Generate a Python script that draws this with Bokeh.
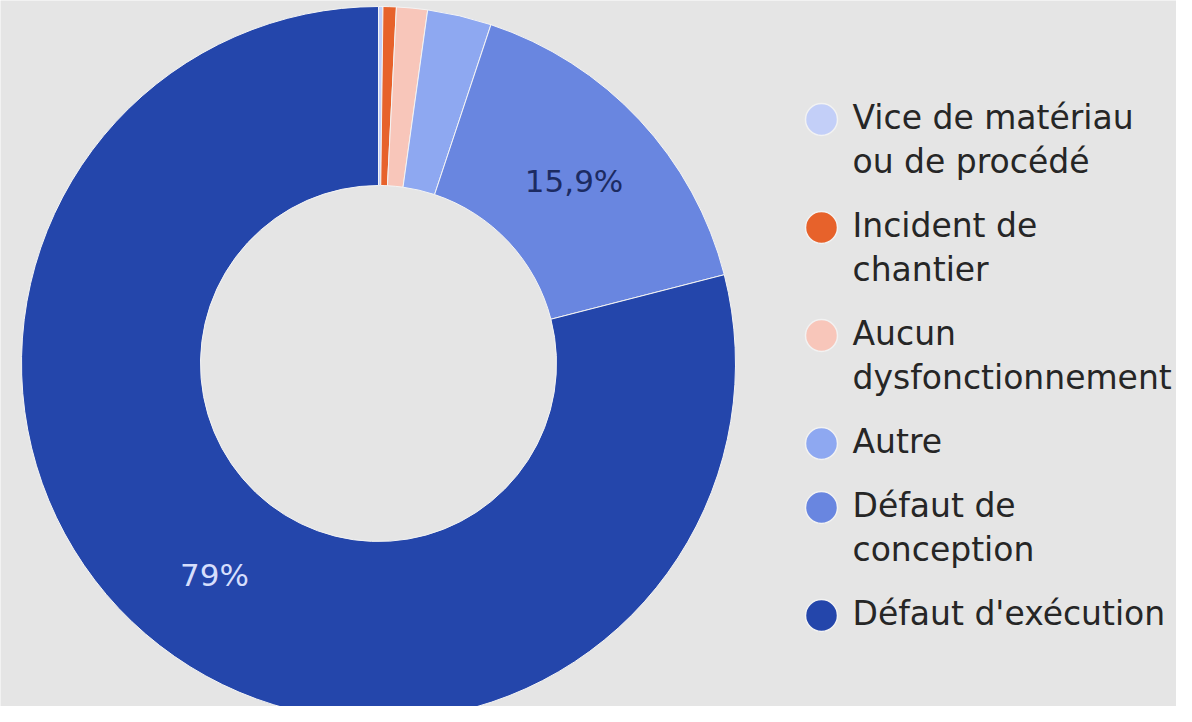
import math
from bokeh.plotting import figure
from bokeh.models import Range1d, ColumnDataSource
from bokeh.core.properties import value
from bokeh.embed import file_html
from bokeh.resources import INLINE

# ---- data ----
categories = ["Vice de matériau\nou de procédé",
              "Incident de\nchantier",
              "Aucun\ndysfonctionnement",
              "Autre",
              "Défaut de\nconception",
              "Défaut d'exécution"]
shares = [0.2, 0.6, 1.4, 2.9, 15.9, 79.0]
slice_labels = ["", "", "", "", "15,9%", "79%"]
colors = ["#c3cff8", "#e7622b", "#f8c6ba", "#8ea8f1", "#6986e0", "#2446ab"]
label_colors = ["#222222", "#222222", "#222222", "#222222", "#1c2b62", "#d6defc"]

# ---- layout ----
W, H = 1176, 706
cx, cy = 378, 363          # donut centre in pixels (from top-left of figure)
R_OUT, R_IN = 357, 178
FONT = "DejaVu Sans"

p = figure(width=W, height=H, output_backend="svg", toolbar_location=None,
           x_range=Range1d(-cx, W - cx), y_range=Range1d(-(H - cy), cy),
           min_border=0, outline_line_color=None,
           background_fill_color="#e5e5e5", border_fill_color="#e5e5e5")
p.axis.visible = False
p.grid.visible = False

total = sum(shares)
starts, ends, mids = [], [], []
cum = 0.0
for s in shares:
    a0 = math.pi / 2 - 2 * math.pi * (cum + s) / total
    a1 = math.pi / 2 - 2 * math.pi * cum / total
    starts.append(a0)
    ends.append(a1)
    mids.append((a0 + a1) / 2)
    cum += s

src = ColumnDataSource(dict(x=[0] * len(shares), y=[0] * len(shares),
                            start=starts, end=ends, color=colors))
p.annular_wedge(x="x", y="y", inner_radius=R_IN, outer_radius=R_OUT,
                start_angle="start", end_angle="end", direction="anticlock",
                fill_color="color", line_color="#f4f4f4", line_width=1,
                source=src)

# slice labels at mid radius
r_mid = (R_IN + R_OUT) / 2
lx, ly, lt, lc = [], [], [], []
for m, t, c in zip(mids, slice_labels, label_colors):
    if t:
        lx.append(r_mid * math.cos(m))
        ly.append(r_mid * math.sin(m))
        lt.append(t)
        lc.append(c)
p.text(x=lx, y=ly, text=lt, text_color=lc, text_align="center",
       text_baseline="middle", text_font=value(FONT), text_font_size="31px")

# legend
LEG_MARK_X = 821 - cx
LEG_TEXT_X = 852 - cx
LINE_H = 44
GAP = 20
y_top = 117
mx, my, tx, ty, tt = [], [], [], [], []
ycur = y_top
for cat in categories:
    lines = cat.split("\n")
    mx.append(LEG_MARK_X)
    my.append(cy - (ycur + 2))
    for i, ln in enumerate(lines):
        tx.append(LEG_TEXT_X)
        ty.append(cy - (ycur + i * LINE_H))
        tt.append(ln)
    ycur += len(lines) * LINE_H + GAP

p.scatter(x=mx, y=my, marker="circle", size=32, fill_color=colors,
          line_color="#f2f2f2", line_width=1.5)
p.text(x=tx, y=ty, text=tt, text_color="#262626", text_align="left",
       text_baseline="middle", text_font=value(FONT), text_font_size="33px")

open("out.html", "w").write(file_html(p, INLINE))
